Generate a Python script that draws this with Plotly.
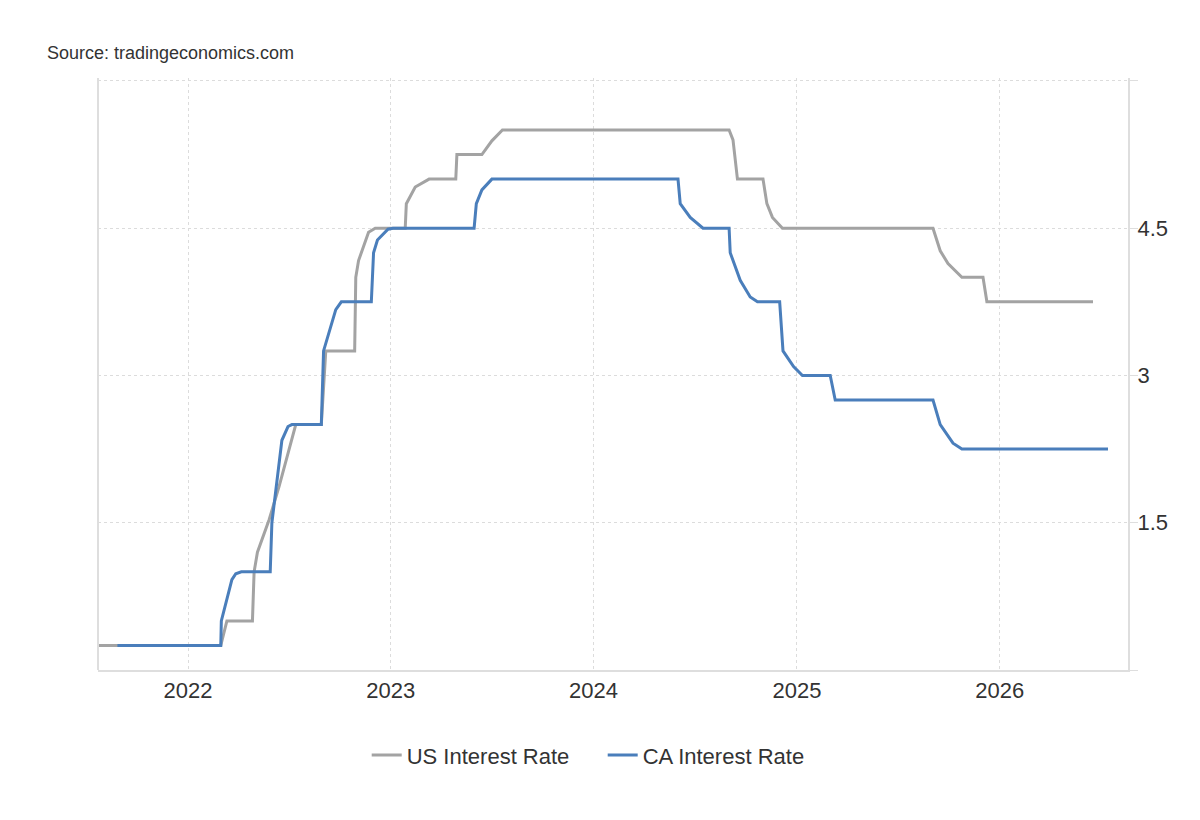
"""US vs CA policy rate chart (tradingeconomics style)."""

import plotly.graph_objects as go

# ---------------------------------------------------------------------------
# Data
# ---------------------------------------------------------------------------
US_DATES = [
    "2021-07-23", "2022-03-01", "2022-03-12", "2022-04-27", "2022-04-30",
    "2022-05-06", "2022-05-27", "2022-06-14", "2022-07-14", "2022-08-29",
    "2022-09-06", "2022-10-28", "2022-10-30", "2022-11-04", "2022-11-22",
    "2022-12-04", "2023-01-27", "2023-01-29", "2023-02-14", "2023-03-11",
    "2023-04-28", "2023-04-30", "2023-06-14", "2023-07-02", "2023-07-21",
    "2024-09-01", "2024-09-08", "2024-09-16", "2024-11-01", "2024-11-08",
    "2024-11-18", "2024-12-06", "2025-09-03", "2025-09-16", "2025-09-30",
    "2025-10-25", "2025-12-02", "2025-12-09", "2026-06-18",
]
US_RATE = [
    0.25, 0.25, 0.50, 0.50, 1.00,
    1.20, 1.53, 1.87, 2.50, 2.50,
    3.25, 3.25, 4.00, 4.17, 4.46,
    4.50, 4.50, 4.75, 4.92, 5.00,
    5.00, 5.25, 5.25, 5.39, 5.50,
    5.50, 5.40, 5.00, 5.00, 4.75,
    4.61, 4.50, 4.50, 4.27, 4.14,
    4.00, 4.00, 3.75, 3.75,
]

CA_DATES = [
    "2021-08-27", "2022-03-01", "2022-03-02", "2022-03-21", "2022-03-28",
    "2022-04-07", "2022-05-29", "2022-06-01", "2022-06-19", "2022-06-30",
    "2022-07-07", "2022-08-29", "2022-09-02", "2022-09-24", "2022-10-04",
    "2022-11-27", "2022-12-01", "2022-12-08", "2022-12-27", "2023-01-05",
    "2023-05-31", "2023-06-04", "2023-06-14", "2023-07-02", "2024-06-01",
    "2024-06-05", "2024-06-23", "2024-07-16", "2024-09-01", "2024-09-03",
    "2024-09-21", "2024-10-09", "2024-10-22", "2024-12-01", "2024-12-07",
    "2024-12-26", "2025-01-11", "2025-03-02", "2025-03-11", "2025-09-03",
    "2025-09-16", "2025-10-09", "2025-10-25", "2026-07-15",
]
CA_RATE = [
    0.25, 0.25, 0.50, 0.92, 0.98,
    1.00, 1.00, 1.50, 2.34, 2.48,
    2.50, 2.50, 3.25, 3.67, 3.75,
    3.75, 4.25, 4.38, 4.49, 4.50,
    4.50, 4.75, 4.89, 5.00, 5.00,
    4.75, 4.61, 4.50, 4.50, 4.25,
    3.97, 3.80, 3.75, 3.75, 3.25,
    3.09, 3.00, 3.00, 2.75, 2.75,
    2.50, 2.31, 2.25, 2.25,
]

Y_TICKS = [0, 1.5, 3, 4.5, 6]
Y_TICK_TEXT = ["", "1.5", "3", "4.5", ""]
X_TICKS = ["2022-01-01", "2023-01-01", "2024-01-01", "2025-01-01", "2026-01-01"]
X_TICK_TEXT = ["2022", "2023", "2024", "2025", "2026"]

COLOR_US = "#a3a3a3"
COLOR_CA = "#4a7ebb"
GRID = "#dcdcdc"
AXIS = "#dedede"
FONT = "Liberation Sans, Arial, sans-serif"

fig = go.Figure()
fig.add_trace(go.Scatter(
    x=US_DATES, y=US_RATE, name="US Interest Rate", mode="lines",
    line=dict(color=COLOR_US, width=3),
))
fig.add_trace(go.Scatter(
    x=CA_DATES, y=CA_RATE, name="CA Interest Rate", mode="lines",
    line=dict(color=COLOR_CA, width=3),
))

# plot area: 1030 x 592 px (page body adds an 8px offset)
fig.update_layout(
    width=1184, height=804,
    margin=dict(l=90, r=64, t=70, b=142),
    paper_bgcolor="white",
    plot_bgcolor="white",
    font=dict(family=FONT, color="#333333", size=22),
    showlegend=True,
    legend=dict(
        orientation="h", x=0.49, xanchor="center", y=-0.144, yanchor="middle",
        font=dict(size=22, color="#333333"), itemwidth=30,
        entrywidth=191, entrywidthmode="pixels",
        traceorder="normal",
    ),
    annotations=[dict(
        text="Source: tradingeconomics.com", xref="paper", yref="paper",
        x=-0.051, y=1.042, xanchor="left", yanchor="middle", showarrow=False,
        font=dict(size=18, color="#333333"),
    )],
)

fig.update_xaxes(
    type="date",
    range=["2021-07-23", "2026-08-20"],
    tickvals=X_TICKS, ticktext=X_TICK_TEXT,
    showgrid=True, gridcolor=GRID, griddash="dot", gridwidth=1,
    showline=True, linecolor=AXIS, linewidth=2, mirror=False,
    ticks="", tickfont=dict(size=22),
    zeroline=False,
)
fig.update_yaxes(
    side="right",
    range=[0, 6.03],
    tickvals=Y_TICKS, ticktext=Y_TICK_TEXT,
    showgrid=True, gridcolor=GRID, griddash="dot", gridwidth=1,
    showline=True, linecolor=AXIS, linewidth=2,
    ticks="outside", ticklen=8, tickcolor=AXIS,
    ticklabelstandoff=-5,
    tickfont=dict(size=22),
    zeroline=False,
)
# left border of the plot area
fig.add_shape(type="line", xref="paper", yref="paper", x0=0, x1=0, y0=0, y1=1,
              line=dict(color=AXIS, width=2))

fig.write_html("out.html")
